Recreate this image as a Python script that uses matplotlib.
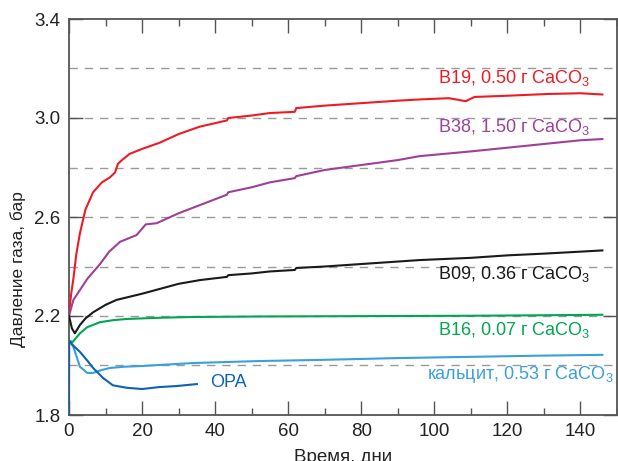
import matplotlib
matplotlib.use("Agg")
import matplotlib.pyplot as plt
from matplotlib.ticker import MultipleLocator, FixedLocator

plt.rcParams['font.family'] = ['Liberation Sans', 'DejaVu Sans']
plt.rcParams['mathtext.fontset'] = 'custom'
plt.rcParams['mathtext.rm'] = 'Liberation Sans'
plt.rcParams['mathtext.it'] = 'Liberation Sans'

# ---- data (days, bar) ----
b19_t = [0, 0.3, 0.6, 1.2, 2, 3, 4.5, 6.6, 9, 11.2, 12.6, 13.4, 14.5, 16.6, 20, 24.8, 30, 35.8,
         43.2, 43.6, 50, 55, 61.8, 62.2, 70, 80, 90, 96, 104, 108.6, 111, 120, 131, 140, 146]
b19_p = [2.20, 2.25, 2.29, 2.35, 2.45, 2.535, 2.63, 2.70, 2.74, 2.76, 2.78, 2.815, 2.83, 2.855, 2.875, 2.90,
         2.935, 2.965, 2.99, 3.00, 3.01, 3.02, 3.025, 3.04, 3.05, 3.06, 3.07, 3.075, 3.08, 3.068, 3.085,
         3.09, 3.097, 3.10, 3.095]

b38_t = [0, 1.2, 3, 5, 8.5, 11, 14, 18.5, 21, 24, 30, 35.8, 43.2, 43.6, 50, 55, 61.8, 62.2,
         70, 80, 90, 96, 110, 120, 130, 140, 146]
b38_p = [2.20, 2.265, 2.305, 2.35, 2.41, 2.46, 2.50, 2.527, 2.57, 2.575, 2.615, 2.648, 2.69, 2.70,
         2.72, 2.74, 2.757, 2.765, 2.79, 2.81, 2.83, 2.846, 2.865, 2.88, 2.895, 2.91, 2.915]

b09_t = [0, 0.8, 1.6, 3, 4.5, 6.6, 10, 13, 15.8, 20, 25, 30, 35.8, 43.2, 43.6, 50, 55, 61.8, 62.2,
         70, 80, 90, 96, 110, 120, 130, 140, 146]
b09_p = [2.20, 2.15, 2.13, 2.164, 2.19, 2.215, 2.245, 2.265, 2.275, 2.29, 2.31, 2.33, 2.345, 2.358,
         2.365, 2.372, 2.38, 2.386, 2.394, 2.40, 2.41, 2.42, 2.426, 2.435, 2.445, 2.452, 2.46, 2.465]

b16_t = [0, 1, 3, 5, 8.5, 12, 15.8, 25, 34, 52, 70, 90, 110, 130, 146]
b16_p = [2.10, 2.095, 2.13, 2.155, 2.175, 2.183, 2.188, 2.193, 2.196, 2.198, 2.199, 2.200, 2.201, 2.203, 2.205]

cal_t = [0, 1.2, 3, 5, 6.6, 9, 11.2, 15, 20, 34, 52, 70, 90, 110, 130, 146]
cal_p = [2.10, 2.075, 1.995, 1.97, 1.97, 1.982, 1.99, 1.995, 1.998, 2.01, 2.018, 2.023, 2.03, 2.035, 2.04, 2.043]

opa_t = [0, 0.05, 1.2, 3, 5, 6.6, 9.3, 12, 15.8, 20, 24.8, 29.5, 35]
opa_p = [1.80, 2.10, 2.08, 2.055, 2.02, 1.99, 1.95, 1.92, 1.91, 1.905, 1.913, 1.917, 1.925]

y_ticks = [1.8, 2.2, 2.6, 3.0, 3.4]
y_grid = [2.0, 2.2, 2.4, 2.6, 2.8, 3.0, 3.2]
x_ticks = [0, 20, 40, 60, 80, 100, 120, 140]

series = [
    (b19_t, b19_p, '#ed1c24', 'B19, 0.50 г CaCO$_3$', 142.8, 3.162, 'right'),
    (b38_t, b38_p, '#9e3f98', 'B38, 1.50 г CaCO$_3$', 142.8, 2.962, 'right'),
    (b09_t, b09_p, '#1a1a1a', 'B09, 0.36 г CaCO$_3$', 142.8, 2.368, 'right'),
    (b16_t, b16_p, '#00a651', 'B16, 0.07 г CaCO$_3$', 142.8, 2.145, 'right'),
    (cal_t, cal_p, '#3a9fdd', 'кальцит, 0.53 г CaCO$_3$', 149.0, 1.964, 'right'),
    (opa_t, opa_p, '#0c63b4', 'OPA', 38.5, 1.930, 'left'),
]

fig = plt.figure(figsize=(6.18, 4.61), dpi=100)
ax = fig.add_axes([69/618, 46/461, 548/618, 396/461])

for t, p, c, lab, tx, ty, ha in series:
    ax.plot(t, p, color=c, lw=1.5, zorder=3)
    ax.text(tx, ty, lab, color=c, fontsize=13, ha=ha, va='center', zorder=4)

ax.set_xlim(0, 150)
ax.set_ylim(1.8, 3.4)
ax.xaxis.set_major_locator(FixedLocator(x_ticks))
ax.xaxis.set_minor_locator(MultipleLocator(10))
ax.yaxis.set_major_locator(FixedLocator(y_ticks))
ax.yaxis.set_minor_locator(FixedLocator(y_grid))
ax.set_yticklabels([f'{v:.1f}' for v in y_ticks])

for y in y_grid:
    ax.axhline(y, color='#9a9a9a', lw=1.0, ls=(0, (6, 5)), zorder=1)

ax.tick_params(which='both', direction='in', top=True, right=True, colors='#555555',
               labelcolor='#222222', labelsize=13.5)
ax.tick_params(which='major', length=10, width=1.0, pad=6)
ax.tick_params(which='minor', length=5, width=1.0)
ax.tick_params(axis='y', which='minor', length=0)
for s in ax.spines.values():
    s.set_color('#555555')
    s.set_linewidth(1.3)

ax.set_ylabel('Давление газа, бар', fontsize=12.5, color='#222222')
ax.yaxis.set_label_coords(-0.078, 0.369)
ax.set_xlabel('Время, дни', fontsize=13.5, color='#222222', labelpad=6)

fig.savefig('out.png', dpi=100)
